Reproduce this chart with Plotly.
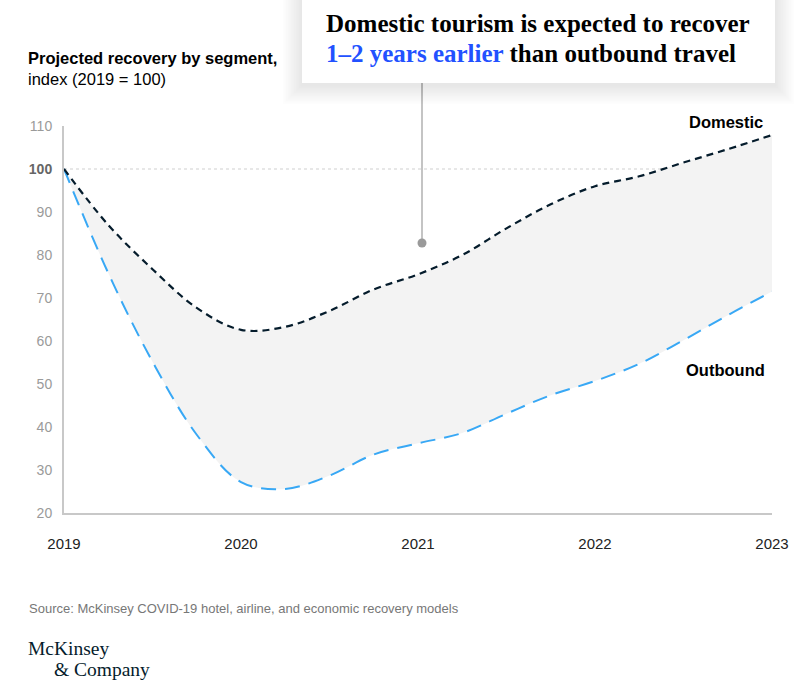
import plotly.graph_objects as go

# ---------------- data ----------------
years = [2019.0, 2019.25, 2019.5, 2019.75, 2020.0, 2020.25, 2020.5, 2020.75,
         2021.0, 2021.25, 2021.5, 2021.75, 2022.0, 2022.25, 2022.5, 2022.75, 2023.0]
domestic = [100, 87.0, 76.7, 67.7, 62.6, 63.3, 67.0, 72.0,
            75.5, 80.0, 86.2, 91.8, 96.0, 98.3, 101.5, 104.6, 107.9]
outbound = [100, 75.8, 55.2, 38.2, 27.2, 25.6, 28.7, 33.6,
            36.2, 38.6, 43.1, 47.4, 50.7, 54.7, 60.2, 66.0, 71.5]
x_tick_vals = [2019, 2020, 2021, 2022, 2023]
x_tick_text = ["2019", "2020", "2021", "2022", "2023"]
y_tick_vals = [20, 30, 40, 50, 60, 70, 80, 90, 100, 110]
y_tick_text = ["20", "30", "40", "50", "60", "70", "80", "90",
               "<b><span style='color:#666'>100</span></b>", "110"]

# ---------------- layout helpers ----------------
W, H = 808, 689
ML, MR, MT, MB = 64, 36, 126, 176
PW, PH = W - ML - MR, H - MT - MB


def X(px):
    return (px - ML) / PW


def Y(py):
    return (H - MB - py) / PH


SANS = "Liberation Sans, Arial, sans-serif"
SERIF = "Liberation Serif, Times New Roman, serif"
NAVY = "#051c2c"
BLUE = "#38a8f5"

fig = go.Figure()

fig.add_trace(go.Scatter(
    x=years, y=outbound, mode="lines", name="Outbound",
    line=dict(color=BLUE, width=2, dash="15px,9px", shape="spline", smoothing=1.0),
    hoverinfo="skip", showlegend=False))
fig.add_trace(go.Scatter(
    x=years, y=domestic, mode="lines", name="Domestic",
    fill="tonexty", fillcolor="#f3f3f3",
    line=dict(color=NAVY, width=2.2, dash="7px,5px", shape="spline", smoothing=1.0),
    hoverinfo="skip", showlegend=False))

shapes = []
# reference line at 100
shapes.append(dict(type="line", xref="x", yref="y", x0=2019, x1=2023, y0=100, y1=100,
                   line=dict(color="#cfcfcf", width=1, dash="dot"), layer="below"))
# connector line and dot
cx = 2019 + (422 - ML) / (PW / 4)
shapes.append(dict(type="line", xref="x", yref="paper", x0=cx, x1=cx, y0=Y(243), y1=Y(83),
                   line=dict(color="#c4c4c4", width=2), layer="above"))
shapes.append(dict(type="circle", xref="x", yref="paper", xsizemode="pixel", ysizemode="pixel",
                   xanchor=cx, yanchor=Y(243), x0=-4.5, x1=4.5, y0=-4.5, y1=4.5,
                   fillcolor="#9a9a9a", line=dict(width=0), layer="above"))
# soft shadow for title box
bx0, bx1, by0, by1 = 302, 775, 83, -6
for i in range(1, 13):
    e = i * 1.6
    shapes.append(dict(type="rect", xref="paper", yref="paper",
                       x0=X(bx0 - e), x1=X(bx1 + e), y0=Y(by0 + e + 2), y1=Y(by1 - e),
                       fillcolor="rgba(0,0,0,0.007)", line=dict(width=0), layer="above"))
shapes.append(dict(type="rect", xref="paper", yref="paper",
                   x0=X(bx0), x1=X(bx1), y0=Y(by0), y1=Y(by1),
                   fillcolor="white", line=dict(width=0), layer="above"))

annotations = [
    dict(text="<b>Domestic tourism is expected to recover</b>",
         xref="paper", yref="paper", x=X(324), y=Y(24), xanchor="left", yanchor="middle",
         align="left", showarrow=False, font=dict(family=SERIF, size=25, color="#000")),
    dict(text="<b><span style='color:#2251ff'>1–2 years earlier</span> than outbound travel</b>",
         xref="paper", yref="paper", x=X(324), y=Y(53), xanchor="left", yanchor="middle",
         align="left", showarrow=False, font=dict(family=SERIF, size=25, color="#000")),
    dict(text="<b>Projected recovery by segment,</b><br>index (2019 = 100)",
         xref="paper", yref="paper", x=X(26), y=Y(69), xanchor="left", yanchor="middle",
         align="left", showarrow=False, font=dict(family=SANS, size=16.5, color="#000")),
    dict(text="<b>Domestic</b>", xref="paper", yref="paper", x=X(765), y=Y(122),
         xanchor="right", yanchor="middle", showarrow=False,
         font=dict(family=SANS, size=16.5, color="#000")),
    dict(text="<b>Outbound</b>", xref="paper", yref="paper", x=X(767), y=Y(370),
         xanchor="right", yanchor="middle", showarrow=False,
         font=dict(family=SANS, size=16.5, color="#000")),
    dict(text="Source: McKinsey COVID-19 hotel, airline, and economic recovery models",
         xref="paper", yref="paper", x=X(27), y=Y(608), xanchor="left", yanchor="middle",
         showarrow=False, font=dict(family=SANS, size=13, color="#777")),
    dict(text="McKinsey", xref="paper", yref="paper", x=X(26), y=Y(648),
         xanchor="left", yanchor="middle", showarrow=False,
         font=dict(family=SERIF, size=19.5, color=NAVY)),
    dict(text="&amp; Company", xref="paper", yref="paper", x=X(52), y=Y(669),
         xanchor="left", yanchor="middle", showarrow=False,
         font=dict(family=SERIF, size=19.5, color=NAVY)),
]

fig.update_layout(
    width=W, height=H,
    margin=dict(l=ML, r=MR, t=MT, b=MB, pad=0),
    paper_bgcolor="white", plot_bgcolor="white",
    shapes=shapes, annotations=annotations,
    xaxis=dict(range=[2019, 2023], tickvals=x_tick_vals, ticktext=x_tick_text,
               showgrid=False, zeroline=False, showline=True, linecolor="#c8c8c8",
               linewidth=2, ticks="outside", ticklen=16, tickcolor="rgba(0,0,0,0)",
               tickfont=dict(family=SANS, size=15, color="#222"), fixedrange=True),
    yaxis=dict(range=[20, 110], tickvals=y_tick_vals, ticktext=y_tick_text,
               showgrid=False, zeroline=False, showline=True, linecolor="#c8c8c8",
               linewidth=2, ticks="outside", ticklen=7, tickcolor="rgba(0,0,0,0)",
               tickfont=dict(family=SANS, size=14, color="#9a9a9a"), fixedrange=True),
)

fig.write_html("out.html", config={"displayModeBar": False},
               post_script="document.body.style.margin='0';document.body.style.overflow='hidden';")
